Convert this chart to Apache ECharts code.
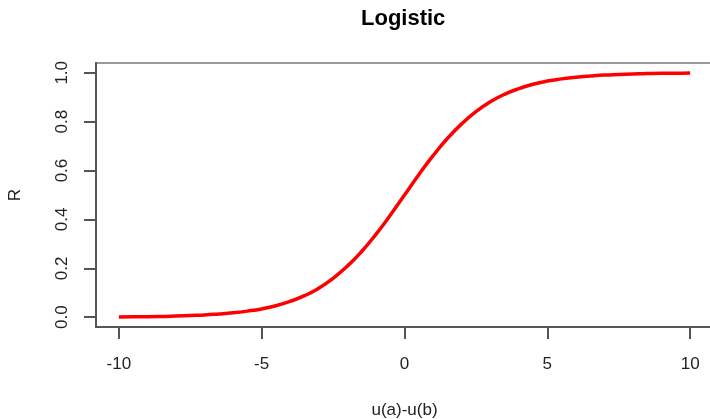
<!DOCTYPE html>
<html>
<head>
<meta charset="utf-8">
<script src="https://cdn.jsdelivr.net/npm/echarts@6/dist/echarts.min.js"></script>
<style>html,body{margin:0;padding:0;background:#fff;}#c{width:710px;height:419px;}</style>
</head>
<body>
<div id="c"></div>
<script>
var xValues = [-10,-9.5,-9,-8.5,-8,-7.5,-7,-6.5,-6,-5.5,-5,-4.5,-4,-3.5,-3,-2.5,-2,-1.5,-1,-0.5,0,0.5,1,1.5,2,2.5,3,3.5,4,4.5,5,5.5,6,6.5,7,7.5,8,8.5,9,9.5,10];
var rValues = [0.001,0.002,0.002,0.003,0.005,0.007,0.009,0.013,0.018,0.025,0.034,0.047,0.065,0.088,0.119,0.159,0.209,0.269,0.339,0.417,0.500,0.583,0.661,0.731,0.791,0.841,0.881,0.912,0.935,0.953,0.966,0.975,0.982,0.987,0.991,0.993,0.995,0.997,0.998,0.998,0.999];
var xTicks = [-10,-5,0,5,10];
var yTicks = [0,0.2,0.4,0.6,0.8,1.0];
var yTickLabels = ["0.0","0.2","0.4","0.6","0.8","1.0"];
var titleText = "Logistic";
var xName = "u(a)-u(b)";
var yName = "R";

var data = xValues.map(function(x,i){return [x, rValues[i]];});
var font = "Liberation Sans, Arial, Helvetica, sans-serif";
var chart = echarts.init(document.getElementById('c'), null, {renderer:'canvas'});
chart.setOption({
  animation:false,
  backgroundColor:'#fff',
  title:{text:titleText,left:356,top:3,textStyle:{fontFamily:font,fontSize:22,fontWeight:'bold',color:'#000'}},
  grid:{left:96,right:-3,top:63,bottom:92,show:true,borderColor:'#999',borderWidth:2,backgroundColor:'transparent',containLabel:false,outerBoundsMode:'none'},
  xAxis:{type:'value',min:-10.8,max:10.8,
    name:xName,nameLocation:'middle',nameGap:75,nameTextStyle:{fontFamily:font,fontSize:17,color:'#222'},
    axisLine:{show:true,onZero:false,lineStyle:{color:'#555',width:2}},
    axisTick:{show:true,inside:false,length:12,lineStyle:{color:'#555',width:2},customValues:xTicks},
    axisLabel:{fontFamily:font,fontSize:17,color:'#222',margin:29,customValues:xTicks},
    splitLine:{show:false}},
  yAxis:{type:'value',min:-0.04,max:1.04,
    name:yName,nameLocation:'middle',nameGap:72,nameRotate:90,nameTextStyle:{fontFamily:font,fontSize:17,color:'#222'},
    axisLine:{show:true,onZero:false,lineStyle:{color:'#555',width:2}},
    axisTick:{show:true,inside:false,length:12,lineStyle:{color:'#555',width:2},customValues:yTicks},
    axisLabel:{fontFamily:font,fontSize:17,color:'#222',margin:25,rotate:90,customValues:yTicks,
      formatter:function(v){var i=yTicks.indexOf(v);return i>=0?yTickLabels[i]:v.toFixed(1);}},
    splitLine:{show:false}},
  series:[{type:'line',data:data,smooth:true,showSymbol:false,lineStyle:{color:'#ff0000',width:3.5},z:1}]
});
</script>
</body>
</html>
